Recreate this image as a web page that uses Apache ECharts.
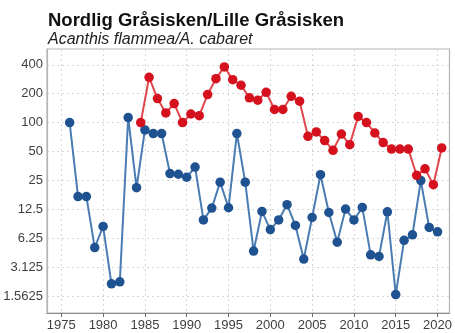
<!DOCTYPE html>
<html>
<head>
<meta charset="utf-8">
<script src="https://cdn.jsdelivr.net/npm/echarts@6/dist/echarts.min.js"></script>
<style>
  html, body { margin: 0; padding: 0; background: #ffffff; }
  #chart { width: 455px; height: 333px; }
</style>
</head>
<body>
<div id="chart"></div>
<script>
// Yearly index (blue), one value per calendar year
const summerYears = [
  1976, 1977, 1978, 1979, 1980, 1981, 1982, 1983, 1984, 1985,
  1986, 1987, 1988, 1989, 1990, 1991, 1992, 1993, 1994, 1995,
  1996, 1997, 1998, 1999, 2000, 2001, 2002, 2003, 2004, 2005,
  2006, 2007, 2008, 2009, 2010, 2011, 2012, 2013, 2014, 2015,
  2016, 2017, 2018, 2019, 2020
];
const summerIndex = [
  100, 17, 17, 5.0, 8.3, 2.1, 2.2, 113, 21, 84,
  77, 77, 29.5, 29, 27, 34.5, 9.7, 12.9, 24, 13,
  77, 24, 4.6, 11.9, 7.7, 9.7, 14, 8.5, 3.8, 10.3,
  28.7, 11.6, 5.7, 12.6, 9.7, 13.1, 4.2, 4.05, 11.8, 1.62,
  5.95, 6.8, 24.9, 8.1, 7.3
];

// Winter index (red), one value per season starting in the given year
const winterSeasons = [
  1984, 1985, 1986, 1987, 1988, 1989, 1990, 1991, 1992, 1993,
  1994, 1995, 1996, 1997, 1998, 1999, 2000, 2001, 2002, 2003,
  2004, 2005, 2006, 2007, 2008, 2009, 2010, 2011, 2012, 2013,
  2014, 2015, 2016, 2017, 2018, 2019, 2020
];
const winterIndex = [
  100, 296, 178, 126, 158, 100, 123, 118, 196, 287,
  380, 280, 245, 181, 171, 207, 137, 137, 188, 167,
  72, 80, 65, 51.5, 76, 59, 116, 100, 78, 62,
  53, 53, 53, 28.3, 33, 22.6, 54.5
];

const yTickLabels = [1.5625, 3.125, 6.25, 12.5, 25, 50, 100, 200, 400];
const xTickLabels = [1975, 1980, 1985, 1990, 1995, 2000, 2005, 2010, 2015, 2020];

// The vertical axis is a base-2 logarithmic scale: positions are log2(value)
const log2 = v => Math.log(v) / Math.LN2;
const yTickPos = yTickLabels.map(log2);

function yLabel(pos) {
  let best = yTickLabels[0], d = Infinity;
  yTickLabels.forEach(t => {
    const e = Math.abs(log2(t) - pos);
    if (e < d) { d = e; best = t; }
  });
  return String(best);
}

const summerData = summerYears.map((y, i) => [y, log2(summerIndex[i])]);
// season values sit in the middle of the winter (Dec/Jan)
const winterData = winterSeasons.map((y, i) => [y + 0.5, log2(winterIndex[i])]);

const chart = echarts.init(document.getElementById('chart'), null, { renderer: 'canvas' });

const labelFont = {
  color: '#3f3f3f',
  fontFamily: 'Liberation Sans, Arial, sans-serif',
  fontSize: 13
};

chart.setOption({
  animation: false,
  backgroundColor: '#ffffff',
  title: [
    {
      text: 'Nordlig Gråsisken/Lille Gråsisken',
      left: 48,
      top: 11,
      padding: 0,
      textStyle: {
        fontFamily: 'Liberation Sans, Arial, sans-serif',
        fontWeight: 'bold',
        fontSize: 18.5,
        color: '#111111'
      }
    },
    {
      text: 'Acanthis flammea/A. cabaret',
      left: 48,
      top: 32,
      padding: 0,
      textStyle: {
        fontFamily: 'Liberation Sans, Arial, sans-serif',
        fontStyle: 'italic',
        fontWeight: 'normal',
        fontSize: 16,
        color: '#222222'
      }
    }
  ],
  grid: {
    left: 47,
    top: 49,
    right: 3,
    bottom: 20,
    show: true,
    borderColor: '#b5b5b5',
    borderWidth: 1.2,
    containLabel: false
  },
  xAxis: {
    type: 'value',
    min: 1973.29,
    max: 2021.43,
    axisLine: { show: true, lineStyle: { color: '#8a8a8a', width: 1.2 } },
    axisTick: {
      show: true,
      length: 4,
      customValues: xTickLabels,
      lineStyle: { color: '#6a6a6a' }
    },
    axisLabel: Object.assign({ customValues: xTickLabels, margin: 6, formatter: v => String(Math.round(v)) }, labelFont),
    splitLine: {
      show: true,
      lineStyle: { color: '#d6d6d6', type: [2, 3], width: 1 }
    }
  },
  yAxis: {
    type: 'value',
    min: 0.06,
    max: 9.19,
    axisLine: { show: true, lineStyle: { color: '#b5b5b5', width: 1.2 } },
    axisTick: { show: false, customValues: yTickPos },
    axisLabel: Object.assign({ customValues: yTickPos, margin: 4, formatter: yLabel }, labelFont),
    splitLine: {
      show: true,
      lineStyle: { color: '#d6d6d6', type: [2, 3], width: 1 }
    }
  },
  series: [
    {
      name: 'summer',
      type: 'line',
      data: summerData,
      symbol: 'circle',
      symbolSize: 9.5,
      lineStyle: { color: '#4a7cb2', width: 2 },
      itemStyle: { color: '#1f5290' },
      z: 3
    },
    {
      name: 'winter',
      type: 'line',
      data: winterData,
      symbol: 'circle',
      symbolSize: 9.5,
      lineStyle: { color: '#e0464c', width: 2 },
      itemStyle: { color: '#d4111c' },
      z: 4
    }
  ]
});
</script>
</body>
</html>
